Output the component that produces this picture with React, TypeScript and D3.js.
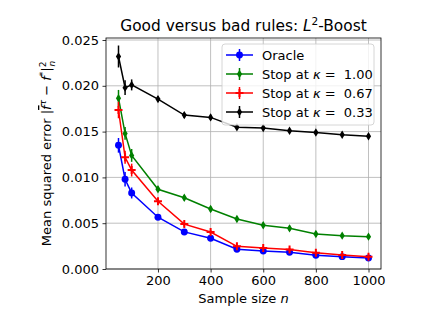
import { useEffect, useRef } from 'react'
import * as d3 from 'd3'

const sampleSizes = [50, 75, 100, 200, 300, 400, 500, 600, 700, 800, 900, 1000]

const oracleMse = [0.0135, 0.0098, 0.0083, 0.00565, 0.00405, 0.00335, 0.00215, 0.00197, 0.00183, 0.0015, 0.00135, 0.0012]
const oracleErr = [0.0008, 0.0008, 0.0006, 0.0003, 0.0002, 0.0002, 0.0002, 0.0002, 0.0002, 0.0002, 0.0002, 0.0002]

const kappa100Mse = [0.01865, 0.0148, 0.0124, 0.0087, 0.00778, 0.00655, 0.00546, 0.00477, 0.00444, 0.00382, 0.00364, 0.00353]
const kappa100Err = [0.0009, 0.0007, 0.0007, 0.0003, 0.0003, 0.0003, 0.0003, 0.0003, 0.0003, 0.0003, 0.0002, 0.0002]

const kappa067Mse = [0.01736, 0.0122, 0.0108, 0.0074, 0.0049, 0.00404, 0.00248, 0.0023, 0.00212, 0.00178, 0.00153, 0.00134]
const kappa067Err = [0.0009, 0.0007, 0.0007, 0.0003, 0.0003, 0.0002, 0.0002, 0.0002, 0.0002, 0.0002, 0.0002, 0.0002]

const kappa033Mse = [0.0232, 0.0198, 0.0201, 0.01855, 0.0168, 0.01655, 0.01548, 0.0154, 0.0151, 0.0149, 0.01465, 0.0145]
const kappa033Err = [0.0012, 0.0008, 0.0006, 0.0003, 0.0003, 0.0003, 0.0003, 0.0002, 0.0002, 0.0002, 0.0002, 0.0002]

const xTicks = [200, 400, 600, 800, 1000]
const yTicks = [0, 0.005, 0.01, 0.015, 0.02, 0.025]

type Series = { label: string; kappa?: string; color: string; marker: 'circle' | 'diamond' | 'plus'; mse: number[]; err: number[] }

const SERIES: Series[] = [
  { label: 'Oracle', color: '#0000ff', marker: 'circle', mse: oracleMse, err: oracleErr },
  { label: 'Stop at', kappa: '1.00', color: '#008000', marker: 'diamond', mse: kappa100Mse, err: kappa100Err },
  { label: 'Stop at', kappa: '0.67', color: '#ff0000', marker: 'plus', mse: kappa067Mse, err: kappa067Err },
  { label: 'Stop at', kappa: '0.33', color: '#000000', marker: 'diamond', mse: kappa033Mse, err: kappa033Err },
]

const W = 423
const H = 317
const FONT = 'DejaVu Sans, sans-serif'

function markerPath(kind: Series['marker']) {
  if (kind === 'circle') return d3.symbol(d3.symbolCircle, 38)()
  if (kind === 'diamond') return 'M0,-4.2L2.6,0L0,4.2L-2.6,0Z'
  return 'M-1,-4H1V-1H4V1H1V4H-1V1H-4V-1H-1Z'
}

export default function App() {
  const svgRef = useRef<SVGSVGElement | null>(null)

  useEffect(() => {
    document.body.style.margin = '0'
    const svg = svgRef.current
    if (!svg) return
    const root = d3.select(svg)
    root.selectAll('*').remove()

    const margin = { top: 38, right: W - 381, bottom: H - 269, left: 106 }
    const x = d3.scaleLinear().domain([2.5, 1047.5]).range([margin.left, W - margin.right])
    const y = d3.scaleLinear().domain([0, 0.02522]).range([H - margin.bottom, margin.top])

    // grid
    const grid = root.append('g')
    grid
      .selectAll('line.gx')
      .data(xTicks)
      .join('line')
      .attr('x1', (d) => x(d))
      .attr('x2', (d) => x(d))
      .attr('y1', margin.top)
      .attr('y2', H - margin.bottom)
      .attr('stroke', '#b0b0b0')
      .attr('stroke-width', 0.8)
    grid
      .selectAll('line.gy')
      .data(yTicks)
      .join('line')
      .attr('x1', margin.left)
      .attr('x2', W - margin.right)
      .attr('y1', (d) => y(d))
      .attr('y2', (d) => y(d))
      .attr('stroke', '#b0b0b0')
      .attr('stroke-width', 0.8)

    // series
    SERIES.forEach((s) => {
      const g = root.append('g')
      const line = d3
        .line<number>()
        .x((_, i) => x(sampleSizes[i]))
        .y((d) => y(d))
      g.append('path')
        .attr('d', line(s.mse))
        .attr('fill', 'none')
        .attr('stroke', s.color)
        .attr('stroke-width', 1.5)
      g.selectAll('line.err')
        .data(s.mse)
        .join('line')
        .attr('x1', (_, i) => x(sampleSizes[i]))
        .attr('x2', (_, i) => x(sampleSizes[i]))
        .attr('y1', (d, i) => y(d - s.err[i]))
        .attr('y2', (d, i) => y(d + s.err[i]))
        .attr('stroke', s.color)
        .attr('stroke-width', 1.5)
      g.selectAll('path.mk')
        .data(s.mse)
        .join('path')
        .attr('d', markerPath(s.marker))
        .attr('transform', (d, i) => `translate(${x(sampleSizes[i])},${y(d)})`)
        .attr('fill', s.color)
    })

    // frame
    root
      .append('rect')
      .attr('x', margin.left)
      .attr('y', margin.top)
      .attr('width', W - margin.right - margin.left)
      .attr('height', H - margin.bottom - margin.top)
      .attr('fill', 'none')
      .attr('stroke', '#000')
      .attr('stroke-width', 0.8)

    // axes
    const xa = root.append('g').attr('transform', `translate(0,${H - margin.bottom})`)
    xa.call(
      d3
        .axisBottom(x)
        .tickValues(xTicks)
        .tickSize(3.5)
        .tickPadding(3.5)
        .tickFormat((d) => `${d}`),
    )
    const ya = root.append('g').attr('transform', `translate(${margin.left},0)`)
    ya.call(
      d3
        .axisLeft(y)
        .tickValues(yTicks)
        .tickSize(3.5)
        .tickPadding(3.5)
        .tickFormat(d3.format('.3f')),
    )
    root.selectAll('.domain').remove()
    root
      .selectAll('.tick text')
      .attr('font-family', FONT)
      .attr('font-size', 13)
      .attr('fill', '#000')
    root.selectAll('.tick line').attr('stroke', '#000').attr('stroke-width', 0.8)

    // x label
    const xl = root
      .append('text')
      .attr('x', (margin.left + W - margin.right) / 2)
      .attr('y', 303)
      .attr('text-anchor', 'middle')
      .attr('font-family', FONT)
      .attr('font-size', 13)
    xl.append('tspan').text('Sample size ')
    xl.append('tspan').attr('font-style', 'italic').text('n')

    // y label
    const yl = root
      .append('text')
      .attr('transform', `translate(51,${(margin.top + H - margin.bottom) / 2}) rotate(-90)`)
      .attr('text-anchor', 'middle')
      .attr('font-family', FONT)
      .attr('font-size', 13)
    yl.append('tspan').text('Mean squared error |')
    yl.append('tspan').attr('font-style', 'italic').attr('text-decoration', 'overline').text('f')
    yl.append('tspan').attr('font-style', 'italic').attr('font-size', 9).attr('dy', -5).text('τ')
    yl.append('tspan').attr('dy', 5).text(' − ')
    yl.append('tspan').attr('font-style', 'italic').text('f')
    yl.append('tspan').attr('font-size', 9).attr('dy', -5).text('*')
    yl.append('tspan').attr('dy', 5).text('|')
    yl.append('tspan').attr('font-size', 9).attr('dy', -5).text('2')
    yl.append('tspan').attr('font-size', 9).attr('font-style', 'italic').attr('dx', -5).attr('dy', 9).text('n')

    // title
    const t = root
      .append('text')
      .attr('x', (margin.left + W - margin.right) / 2)
      .attr('y', 31)
      .attr('text-anchor', 'middle')
      .attr('font-family', FONT)
      .attr('font-size', 15.4)
    t.append('tspan').text('Good versus bad rules: ')
    t.append('tspan').attr('font-style', 'italic').text('L')
    t.append('tspan').attr('font-size', 10.5).attr('dy', -6).text('2')
    t.append('tspan').attr('dy', 6).text('-Boost')

    // legend
    const lg = root.append('g')
    lg.append('rect')
      .attr('x', 222)
      .attr('y', 44)
      .attr('width', 152)
      .attr('height', 81)
      .attr('rx', 3)
      .attr('fill', 'rgba(255,255,255,0.8)')
      .attr('stroke', '#cccccc')
      .attr('stroke-width', 0.8)
    SERIES.forEach((s, i) => {
      const cy = 55 + i * 19
      const row = lg.append('g')
      row.append('line').attr('x1', 226).attr('x2', 253).attr('y1', cy).attr('y2', cy).attr('stroke', s.color).attr('stroke-width', 1.5)
      row.append('line').attr('x1', 239.5).attr('x2', 239.5).attr('y1', cy - 6).attr('y2', cy + 6).attr('stroke', s.color).attr('stroke-width', 1.5)
      row.append('path').attr('d', markerPath(s.marker)).attr('transform', `translate(239.5,${cy})`).attr('fill', s.color)
      const tx = row
        .append('text')
        .attr('x', 262)
        .attr('y', cy + 4.5)
        .attr('font-family', FONT)
        .attr('font-size', 13)
      if (s.kappa) {
        tx.append('tspan').text('Stop at ')
        tx.append('tspan').attr('font-style', 'italic').text('κ')
        tx.append('tspan').text(` =\u00a0\u00a0${s.kappa}`)
      } else {
        tx.text(s.label)
      }
    })
  }, [])

  return <svg ref={svgRef} width={W} height={H} style={{ display: 'block', background: '#fff' }} />
}
